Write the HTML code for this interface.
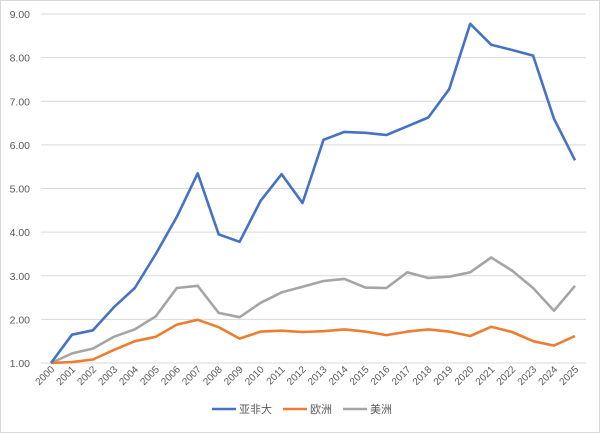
<!DOCTYPE html>
<html><head><meta charset="utf-8"><style>
html,body{margin:0;padding:0;background:#fff;}
svg{display:block;font-family:"Liberation Sans","Noto Sans CJK SC",sans-serif;}
</style></head><body>
<svg width="600" height="433" viewBox="0 0 600 433" xmlns="http://www.w3.org/2000/svg">
<rect x="0.5" y="0.5" width="599" height="432" fill="#fff" stroke="#d9d9d9"/>
<g stroke="#d9d9d9" stroke-width="1">
<line x1="41" x2="586" y1="14" y2="14"/><line x1="41" x2="586" y1="57.6" y2="57.6"/>
<line x1="41" x2="586" y1="101.3" y2="101.3"/><line x1="41" x2="586" y1="144.9" y2="144.9"/>
<line x1="41" x2="586" y1="188.5" y2="188.5"/><line x1="41" x2="586" y1="232.1" y2="232.1"/>
<line x1="41" x2="586" y1="275.8" y2="275.8"/><line x1="41" x2="586" y1="319.4" y2="319.4"/>
<line x1="41" x2="586" y1="363" y2="363"/>
</g>
<g font-size="10.5" fill="#595959" text-anchor="end">
<text x="30" y="18">9.00</text><text x="30" y="61.6">8.00</text><text x="30" y="105.3">7.00</text>
<text x="30" y="148.9">6.00</text><text x="30" y="192.5">5.00</text><text x="30" y="236.1">4.00</text>
<text x="30" y="279.8">3.00</text><text x="30" y="323.4">2.00</text><text x="30" y="367">1.00</text>
</g>
<g id="xl" font-size="10" fill="#595959" text-anchor="end"></g>
<polyline id="s3" fill="none" stroke="#a5a5a5" stroke-width="2.6" stroke-linejoin="round"/>
<polyline id="s2" fill="none" stroke="#ed7d31" stroke-width="2.6" stroke-linejoin="round"/>
<polyline id="s1" fill="none" stroke="#4472c4" stroke-width="2.6" stroke-linejoin="round"/>
<g font-size="11" fill="#595959">
<line x1="212" x2="236" y1="409" y2="409" stroke="#4472c4" stroke-width="2.6"/><text x="239" y="413">亚非大</text>
<line x1="283" x2="307" y1="409" y2="409" stroke="#ed7d31" stroke-width="2.6"/><text x="310" y="413">欧洲</text>
<line x1="343" x2="367" y1="409" y2="409" stroke="#a5a5a5" stroke-width="2.6"/><text x="370" y="413">美洲</text>
</g>
</svg>
<script>
var a=[1.0,1.65,1.75,2.28,2.72,3.5,4.35,5.35,3.95,3.78,4.72,5.33,4.67,6.12,6.3,6.28,6.23,6.43,6.63,7.28,8.78,8.3,8.18,8.05,6.6,5.65];
var e=[1.0,1.02,1.08,1.3,1.5,1.6,1.88,1.99,1.82,1.56,1.72,1.74,1.71,1.73,1.77,1.72,1.64,1.72,1.77,1.72,1.62,1.83,1.71,1.5,1.4,1.62];
var m=[1.0,1.22,1.33,1.6,1.77,2.07,2.72,2.77,2.15,2.05,2.38,2.62,2.75,2.88,2.93,2.73,2.72,3.08,2.95,2.98,3.08,3.42,3.12,2.72,2.2,2.77];
function X(i){return 51+i*20.96;}function Y(v){return 363-(v-1)*43.6;}
function pts(d){return d.map(function(v,i){return X(i).toFixed(1)+","+Y(v).toFixed(1)}).join(" ");}
document.getElementById("s1").setAttribute("points",pts(a));
document.getElementById("s2").setAttribute("points",pts(e));
document.getElementById("s3").setAttribute("points",pts(m));
var g=document.getElementById("xl"),h="";
for(var i=0;i<26;i++){var x=X(i)+4,y=370;h+='<text x="'+x+'" y="'+y+'" transform="rotate(-45 '+x+' '+y+')">'+(2000+i)+'</text>';}
g.innerHTML=h;
</script>
</body></html>
